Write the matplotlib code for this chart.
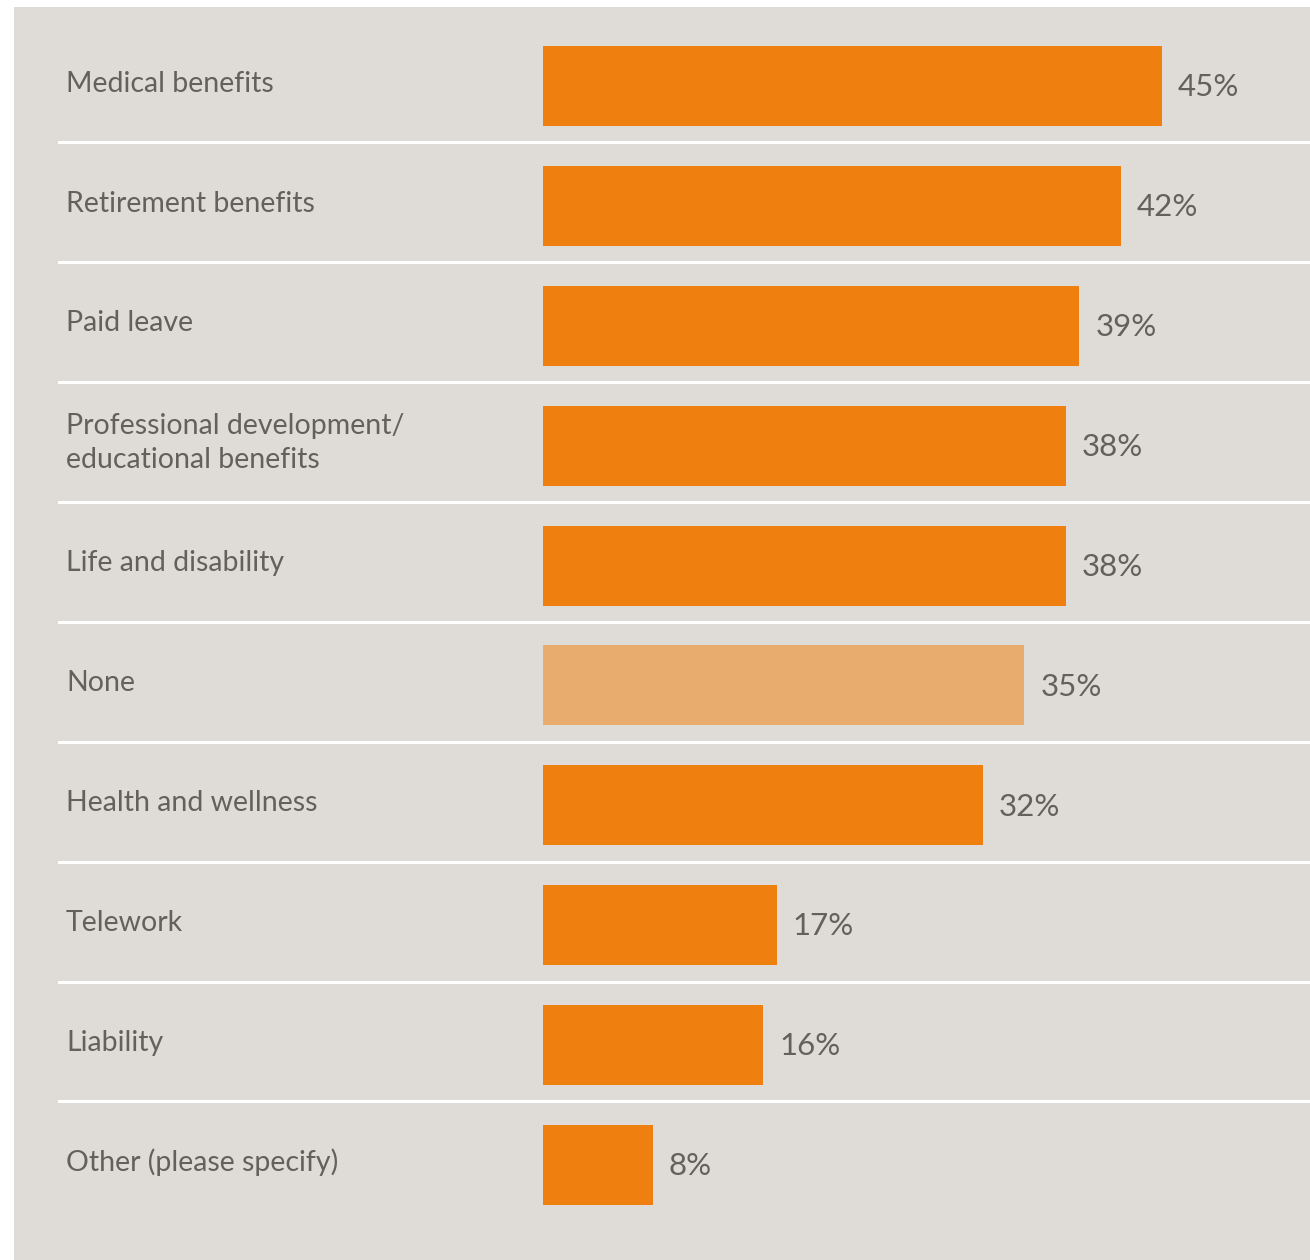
import matplotlib.pyplot as plt

# Data
categories = ['Medical benefits', 'Retirement benefits', 'Paid leave',
              'Professional development/\neducational benefits',
              'Life and disability', 'None', 'Health and wellness',
              'Telework', 'Liability', 'Other (please specify)']
values = [45, 42, 39, 38, 38, 35, 32, 17, 16, 8]
value_labels = ['45%', '42%', '39%', '38%', '38%', '35%', '32%', '17%', '16%', '8%']

orange = '#ef7f0e'
light_orange = '#e8ac6f'
panel = '#dfdcd7'
text_col = '#64605b'
colors = [light_orange if c == 'None' else orange for c in categories]

W, H = 1310, 1260
fig = plt.figure(figsize=(W / 100, H / 100), dpi=100, facecolor='white')

# panel area in pixels: x 14..1310, y 7..1260 (from top)
ax = fig.add_axes([14 / W, 0, (W - 14) / W, (H - 7) / H])
ax.set_facecolor(panel)
for s in ax.spines.values():
    s.set_visible(False)
ax.set_xticks([])
ax.set_yticks([])

px = 13.75          # pixels per percentage point
row = 119.8         # pixels per row
ax.set_xlim(-(543 - 14) / px, (W - 543) / px)
ax.set_ylim(9 + (1260 - 1165) / row, -(86 - 7) / row)

y = list(range(len(categories)))
ax.barh(y, values, height=80 / row, color=colors, zorder=2)

for i, (cat, v, lab) in enumerate(zip(categories, values, value_labels)):
    ax.text((66 - 543) / px, i - 0.02, cat, ha='left', va='center',
            fontsize=20.5, color=text_col, family='Lato', linespacing=1.4)
    ax.text(v + 16 / px, i + 0.01, lab, ha='left', va='center',
            fontsize=22.5, color=text_col, family='Lato')

# white separators between rows
sep_start = (59 - 14) / (W - 14)
for i in range(len(categories) - 1):
    ax.axhline(i + 0.47, xmin=sep_start, xmax=1, color='white', lw=2.2, zorder=1)

fig.savefig('out.png', dpi=100, facecolor='white')
